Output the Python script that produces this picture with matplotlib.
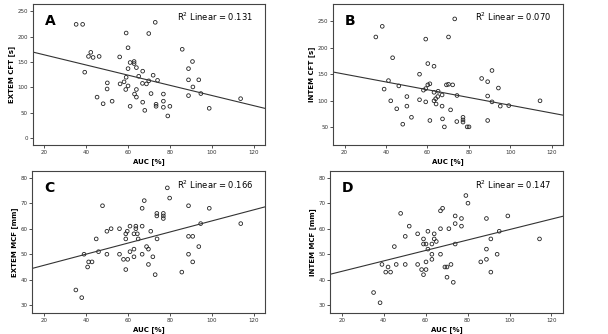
import numpy as np
import matplotlib
matplotlib.use("Agg")
import matplotlib.pyplot as plt

# panel A: AUC vs EXTEM CFT
auc_a = [35.2, 38.3, 73.0, 59.1, 69.9, 60.0, 85.9, 42.2, 41.1, 43.3, 46.2, 56.0, 90.8, 61.0, 62.9,
         62.9, 60.0, 64.0, 67.0, 88.9, 39.3, 72.0, 59.1, 65.1, 74.1, 69.9, 88.9, 93.8, 50.1, 58.1,
         56.2, 66.9, 68.8, 60.0, 91.0, 50.0, 58.9, 64.0, 63.1, 64.0, 71.0, 76.9, 45.2, 94.8, 88.9,
         52.4, 48.1, 67.0, 76.9, 61.0, 73.4, 73.4, 76.9, 80.0, 68.0, 98.8, 79.0, 113.8]
extem_cft = [224, 224, 228, 207, 206, 178, 175, 169, 161, 159, 161, 160, 151, 149, 151,
             147, 137, 139, 132, 137, 130, 124, 120, 122, 114, 113, 115, 115, 109, 111,
             107, 108, 107, 103, 101, 97, 96, 96, 87, 81, 88, 87, 81, 88, 84,
             73, 68, 71, 73, 63, 67, 63, 61, 63, 55, 59, 44, 78]

# panel B: AUC vs INTEM CFT
auc_b = [35.1, 38.2, 73.2, 59.2, 70.2, 60.2, 63.2, 43.2, 86.2, 91.2, 89.1, 41.2, 56.2, 39.1, 46.2,
         60.2, 61.2, 58.1, 59.2, 63.2, 65.2, 67.1, 69.2, 70.2, 72.2, 65.0, 64.0, 63.2, 50.1, 42.3,
         56.2, 59.2, 64.2, 74.3, 91.2, 95.2, 99.3, 114.4, 89.1, 94.3, 50.1, 45.2, 67.1, 71.2, 52.3,
         67.3, 61.2, 48.1, 68.2, 74.2, 77.2, 77.2, 77.2, 79.2, 80.1, 89.1]
intem_cft = [220, 240, 254, 216, 220, 170, 165, 181, 142, 157, 136, 138, 150, 122, 128,
             130, 132, 120, 123, 116, 118, 111, 130, 131, 130, 108, 104, 100, 108, 100,
             102, 98, 94, 110, 98, 90, 91, 100, 109, 124, 90, 85, 90, 83, 69,
             66, 63, 56, 51, 61, 69, 64, 60, 51, 51, 63]

# panel C: AUC vs EXTEM MCF
auc_c = [35.3, 38.1, 39.2, 41.4, 43.0, 40.9, 45.0, 46.1, 48.0, 50.1, 50.1, 52.1, 56.1, 56.1, 58.0,
         59.1, 59.8, 59.1, 59.1, 60.0, 61.1, 61.1, 63.0, 64.6, 63.0, 63.0, 63.9, 63.9, 65.0, 66.9,
         66.9, 66.9, 67.9, 69.0, 69.9, 69.9, 71.0, 72.0, 73.1, 74.0, 73.9, 73.9, 77.0, 77.0, 77.0,
         78.9, 80.0, 85.8, 89.0, 89.0, 89.0, 91.0, 91.0, 93.9, 94.8, 98.9, 113.9]
extem_mcf = [36, 33, 50, 47, 47, 45, 56, 51, 69, 59, 50, 60, 60, 50, 48,
             58, 59, 56, 44, 48, 61, 51, 58, 58, 52, 49, 61, 60, 56, 68,
             61, 50, 71, 53, 52, 46, 59, 49, 42, 56, 66, 65, 66, 65, 64,
             76, 72, 43, 69, 57, 50, 57, 47, 53, 62, 68, 62]

# panel D: AUC vs INTEM MCF
auc_d = [35.2, 38.3, 39.2, 42.1, 41.0, 43.3, 46.0, 45.1, 48.1, 50.3, 50.3, 52.2, 56.2, 56.2, 58.1,
         59.0, 59.0, 59.0, 60.2, 60.2, 60.2, 61.1, 61.1, 63.0, 63.0, 63.0, 64.1, 64.1, 65.1, 67.1,
         68.1, 67.1, 67.1, 69.2, 70.2, 70.2, 71.1, 72.1, 73.2, 74.1, 74.1, 74.1, 77.1, 77.1, 79.2,
         80.2, 86.3, 89.0, 89.0, 89.0, 91.1, 91.1, 94.1, 95.1, 99.2, 114.3]
intem_mcf = [35, 31, 46, 45, 43, 43, 46, 53, 66, 57, 46, 61, 58, 46, 44,
             56, 54, 42, 54, 47, 44, 59, 52, 54, 50, 48, 58, 56, 55, 67,
             68, 60, 50, 45, 45, 41, 60, 46, 39, 65, 62, 54, 64, 61, 73,
             70, 47, 64, 52, 48, 56, 43, 50, 59, 65, 56]

panels = [
    ("A", auc_a, extem_cft, "EXTEM CFT [s]", "0.131", (-13, 264), [0, 50, 100, 150, 200, 250]),
    ("B", auc_b, intem_cft, "INTEM CFT [s]", "0.070", (17, 282), [50, 100, 150, 200, 250]),
    ("C", auc_c, extem_mcf, "EXTEM MCF [mm]", "0.166", (27, 82.6), [30, 40, 50, 60, 70, 80]),
    ("D", auc_d, intem_mcf, "INTEM MCF [mm]", "0.147", (27, 82.6), [30, 40, 50, 60, 70, 80]),
]
boxes = [[0.054, 0.566, 0.382, 0.422], [0.548, 0.566, 0.378, 0.422],
         [0.053, 0.063, 0.383, 0.425], [0.543, 0.063, 0.383, 0.425]]

fig = plt.figure(figsize=(6.08, 3.34), dpi=100)
for (letter, x, y, ylab, r2, ylim, yt), box in zip(panels, boxes):
    ax = fig.add_axes(box)
    ax.scatter(x, y, s=7, facecolors="none", edgecolors="#222222", linewidths=0.6)
    xlim = (14.5, 125.5)
    k, b = np.polyfit(x, y, 1)
    xs = np.array(xlim)
    ax.plot(xs, k * xs + b, color="#333333", lw=0.8)
    ax.set_xlim(xlim)
    ax.set_ylim(ylim)
    ax.set_xticks([20, 40, 60, 80, 100, 120])
    ax.set_yticks(yt)
    ax.tick_params(labelsize=4, length=2, width=0.6, pad=1.5, colors="#333333")
    ax.set_xlabel("AUC [%]", fontsize=5, fontweight="bold", labelpad=2)
    ax.set_ylabel(ylab, fontsize=5, fontweight="bold", labelpad=2)
    for s in ax.spines.values():
        s.set_linewidth(0.8)
        s.set_color("#444444")
    ax.text(0.05, 0.93, letter, transform=ax.transAxes, fontsize=10, fontweight="bold",
            va="top", ha="left")
    ax.text(0.95, 0.95, "R$^2$ Linear = " + r2, transform=ax.transAxes, fontsize=6,
            va="top", ha="right")

fig.savefig("out.png", dpi=100)
